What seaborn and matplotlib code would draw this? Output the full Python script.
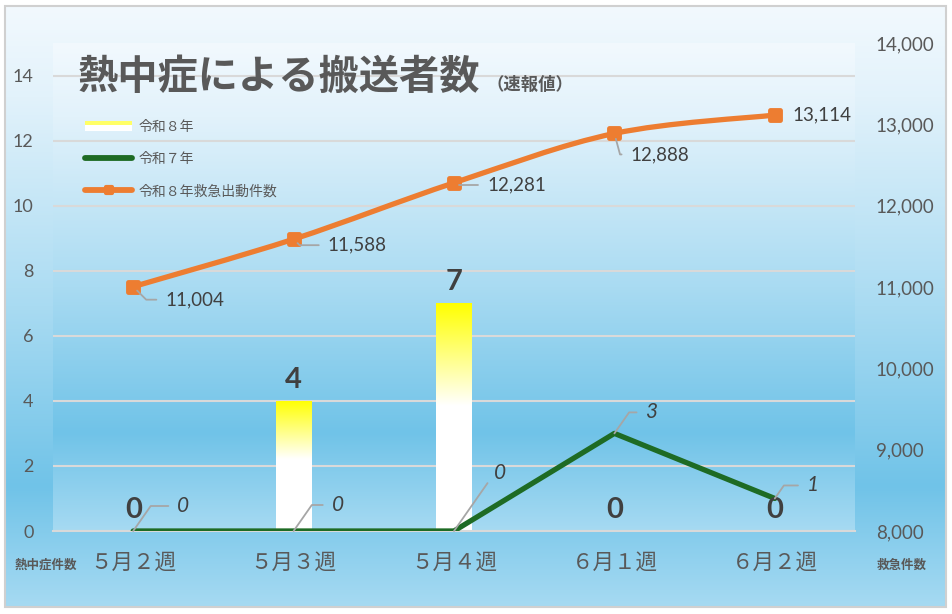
import numpy as np
import pandas as pd
import matplotlib
matplotlib.use("Agg")
import matplotlib.pyplot as plt
import seaborn as sns
from matplotlib.colors import LinearSegmentedColormap, to_rgb
from matplotlib.path import Path
from matplotlib.patches import PathPatch, Rectangle
from matplotlib.legend_handler import HandlerBase
from matplotlib.lines import Line2D
from matplotlib.markers import MarkerStyle

# ---------------- data ----------------
weeks = ["５月２週", "５月３週", "５月４週", "６月１週", "６月２週"]
heat_r8 = [0, 4, 7, 0, 0]            # 令和８年 (bars)
heat_r7 = [0, 0, 0, 3, 1]            # 令和７年 (green line)
emerg_r8 = [11004, 11588, 12281, 12888, 13114]   # 令和８年救急出動件数
left_ticks = [0, 2, 4, 6, 8, 10, 12, 14]
right_ticks = [8000, 9000, 10000, 11000, 12000, 13000, 14000]
legend_labels = ["令和８年", "令和７年", "令和８年救急出動件数"]
title_main = "熱中症による搬送者数"
title_sub = "（速報値）"
left_axis_label = "熱中症件数"
right_axis_label = "救急件数"

# ---------------- style ----------------
sns.set_theme(style="white")
plt.rcParams["font.family"] = ["Noto Sans CJK JP", "DejaVu Sans"]
NUMFONT = ["Lato", "Noto Sans CJK JP", "DejaVu Sans"]
GREEN = "#1e6b24"
ORANGE = "#ed7d31"
TXT = "#595959"
LBL = "#404040"
GRID = "#d9d9d9"

W, H = 952, 614
fig = plt.figure(figsize=(W / 100, H / 100), dpi=100)
fig.patch.set_facecolor("white")


def px(x0, y0, x1, y1):
    return [x0 / W, 1 - y1 / H, (x1 - x0) / W, (y1 - y0) / H]


bg_cmap = LinearSegmentedColormap.from_list(
    "bg",
    [(0.0, "#f2f9fe"), (0.15, "#e2f2fb"), (0.5, "#a9dbf2"),
     (0.8, "#70c3e8"), (1.0, "#a6daf2")])
grad = np.linspace(0, 1, 256)[:, None]

# figure background
bg = fig.add_axes([0, 0, 1, 1], zorder=-10)
bg.set_xlim(0, W)
bg.set_ylim(H, 0)
bg.axis("off")
bg.imshow(grad, cmap=bg_cmap, extent=[5, 946, 607, 6], aspect="auto",
          interpolation="bicubic")
bg.add_patch(Rectangle((5, 6), 941, 601, fill=False, ec="#d0d0d0", lw=1.5))

# plot-area background
pos = px(53, 43, 855, 531)
axbg = fig.add_axes(pos, zorder=-5)
axbg.imshow(grad, cmap=bg_cmap, extent=[0, 1, 0, 1], aspect="auto",
            interpolation="bicubic")
axbg.axis("off")

ax = fig.add_axes(pos, zorder=0)
ax.patch.set_alpha(0)

df = pd.DataFrame({"week": weeks, "r8": heat_r8, "r7": heat_r7, "em": emerg_r8})
df["pos"] = np.arange(len(df))

# bars
sns.barplot(data=df, x="week", y="r8", ax=ax, width=0.22, color="white",
            saturation=1, linewidth=0, zorder=2)
bars = list(ax.patches)

# gradient fill for bars (yellow top -> white)
t = np.linspace(0, 1, 256)
yel = np.array(to_rgb("#ffff00"))
wht = np.array([1.0, 1.0, 1.0])
frac = np.clip(t / 0.45, 0, 1)[:, None]
bar_img = (yel * (1 - frac) + wht * frac)[:, None, :]
for p in bars:
    if p.get_height() > 0:
        im = ax.imshow(bar_img, extent=[p.get_x(), p.get_x() + p.get_width(),
                                        0, p.get_height()],
                       aspect="auto", zorder=2.1, origin="upper",
                       interpolation="bilinear")
        im.set_clip_path(p)

# green line
sns.lineplot(data=df, x="pos", y="r7", ax=ax, color=GREEN, lw=3.8,
             zorder=4, legend=False)

ax.set_xlim(-0.5, len(weeks) - 0.5)
ax.set_ylim(0, 15)

# bar labels
for p, v in zip(bars, heat_r8):
    ax.annotate(f"{v}", (p.get_x() + p.get_width() / 2, v), xytext=(0, 8),
                textcoords="offset pixels", ha="center", va="bottom",
                fontsize=21, color=LBL, family=NUMFONT, weight="bold", zorder=6)

# green labels with leader lines
green_off = [(44, 25), (38, 26), (40, 58), (31, 21), (32, 13)]
for i, (v, off) in enumerate(zip(heat_r7, green_off)):
    ax.annotate(f"{v}", (i, v), xytext=off, textcoords="offset pixels",
                ha="left", va="center", fontsize=15, style="italic",
                color=LBL, family=NUMFONT, zorder=6,
                arrowprops=dict(arrowstyle="-", color="#a6a6a6", lw=1.3,
                                shrinkA=4, shrinkB=0, relpos=(0, 0.5),
                                connectionstyle="angle,angleA=0,angleB=55,rad=0"))

# axes styling
ax.set_yticks(left_ticks)
ax.set_xticks(range(len(weeks)), weeks)
ax.set_xlabel("")
ax.set_ylabel("")
ax.tick_params(axis="y", length=0, pad=14, labelsize=13, labelcolor=TXT)
ax.tick_params(axis="x", length=0, pad=15, labelsize=15.5, labelcolor=TXT)
for lbl in ax.get_yticklabels():
    lbl.set_family(NUMFONT)
ax.grid(axis="y", color=GRID, lw=1.5)
ax.grid(axis="x", visible=False)
ax.set_axisbelow(True)
for s in ["top", "left", "right"]:
    ax.spines[s].set_visible(False)
ax.spines["bottom"].set_color(GRID)
ax.spines["bottom"].set_linewidth(1.5)

# secondary axis: emergency dispatches
ax2 = ax.twinx()
ax2.patch.set_alpha(0)
ax2.set_ylim(8000, 14000)
P = np.column_stack([df["pos"].to_numpy(float), df["em"].to_numpy(float)])
n = len(P)
verts = [P[0]]
codes = [Path.MOVETO]
for i in range(n - 1):
    pm1 = P[i - 1] if i > 0 else P[i]
    p2 = P[i + 2] if i + 2 < n else P[i + 1]
    c1 = P[i] + (P[i + 1] - pm1) / 6
    c2 = P[i + 1] - (p2 - P[i]) / 6
    verts += [c1, c2, P[i + 1]]
    codes += [Path.CURVE4] * 3
ax2.add_patch(PathPatch(Path(verts, codes), fill=False, ec=ORANGE, lw=3.8,
                        capstyle="round", zorder=4))
sq = MarkerStyle("s", joinstyle="round")
ax2.plot(df["pos"], df["em"], ls="none", marker=sq, ms=7, mfc=ORANGE,
         mec=ORANGE, mew=3.5, zorder=5)

orange_off = [(32, -13), (34, -6), (33, -2), (16, -21), (18, 0)]
for i, (v, off) in enumerate(zip(emerg_r8, orange_off)):
    kw = {}
    if off[1] != 0:
        ang = -45 if off[0] > 25 else -75
        kw["arrowprops"] = dict(arrowstyle="-", color="#a6a6a6", lw=1.3,
                                shrinkA=4, shrinkB=4, relpos=(0, 0.5),
                                connectionstyle=f"angle,angleA=0,angleB={ang},rad=0")
    ax2.annotate(f"{v:,}", (i, v), xytext=off, textcoords="offset pixels",
                 ha="left", va="center", fontsize=13.5, color=LBL,
                 family=NUMFONT, zorder=6, **kw)

ax2.set_yticks(right_ticks, [f"{v:,}" for v in right_ticks])
ax2.tick_params(axis="y", length=0, pad=15, labelsize=13.5, labelcolor=TXT)
for lbl in ax2.get_yticklabels():
    lbl.set_family(NUMFONT)
ax2.grid(False)
for s in ax2.spines.values():
    s.set_visible(False)


# legend
class GradHandler(HandlerBase):
    def create_artists(self, legend, orig, xd, yd, w, h, fontsize, trans):
        r1 = Rectangle((xd, yd), w, h, fc="white", ec="none", transform=trans)
        r2 = Rectangle((xd, yd + h * 0.6), w, h * 0.4, fc="#ffff66", ec="none",
                       transform=trans)
        return [r1, r2]


bar_handle = Rectangle((0, 0), 1, 1)
handles = [bar_handle,
           Line2D([], [], color=GREEN, lw=4.2, solid_capstyle="round"),
           Line2D([], [], color=ORANGE, lw=4.2, marker=sq, ms=5, mew=3,
                  mec=ORANGE, solid_capstyle="round")]
fig.legend(handles, legend_labels, loc="upper left",
           bbox_to_anchor=(85 / W, 1 - 120 / H), frameon=False, fontsize=10,
           labelcolor=TXT, handlelength=3.4, handletextpad=0.45,
           labelspacing=1.3, borderaxespad=0, borderpad=0,
           handler_map={bar_handle: GradHandler()})

# titles and corner labels
fig.text(78 / W, 1 - 77 / H, title_main, fontsize=29, weight="bold",
         color=TXT, ha="left", va="center")
fig.text(487 / W, 1 - 85 / H, title_sub, fontsize=12.5, weight="bold",
         color=TXT, ha="left", va="center")
fig.text(15 / W, 1 - 565 / H, left_axis_label, fontsize=9, weight="bold",
         color=TXT, ha="left", va="center")
fig.text(877 / W, 1 - 565 / H, right_axis_label, fontsize=9, weight="bold",
         color=TXT, ha="left", va="center")

fig.savefig("out.png", dpi=100)
